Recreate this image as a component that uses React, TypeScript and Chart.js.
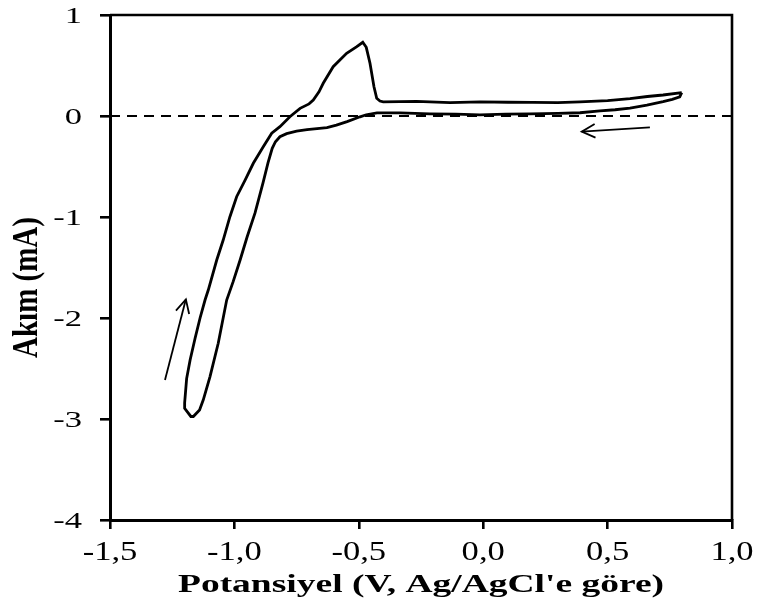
import React, { useEffect, useRef } from "react";
import { Chart, registerables } from "chart.js";

Chart.register(...registerables);

// Cyclic voltammogram, in path order (starting at the positive vertex, sweeping negative, then back)
const CV_POTENTIAL = [
  0.798, 0.79, 0.76, 0.723, 0.658, 0.59, 0.53, 0.469, 0.389, 0.3, 0.188, 0.09, -0.013, -0.11, -0.214, -0.334,
  -0.427, -0.47, -0.495, -0.547, -0.59, -0.628, -0.708, -0.75, -0.79, -0.817, -0.835, -0.848, -0.865, -0.885,
  -0.917, -0.949, -0.977, -1.005, -1.031, -1.065, -1.098, -1.125, -1.14, -1.165, -1.175, -1.2, -1.2, -1.192,
  -1.178, -1.158, -1.138, -1.118, -1.105, -1.071, -1.045, -1.018, -0.991, -0.957, -0.924, -0.884, -0.85, -0.817,
  -0.777, -0.736, -0.7, -0.683, -0.66, -0.643, -0.603, -0.549, -0.508, -0.484, -0.47, -0.455, -0.439, -0.428,
  -0.415, -0.402, -0.268, -0.133, -0.013, 0.1, 0.2, 0.3, 0.389, 0.5, 0.59, 0.66, 0.723, 0.798,
];
const CV_CURRENT = [
  0.231, 0.19, 0.165, 0.142, 0.108, 0.079, 0.062, 0.05, 0.032, 0.026, 0.022, 0.018, 0.012, 0.018, 0.022, 0.03,
  0.03, 0.012, -0.008, -0.055, -0.09, -0.115, -0.135, -0.15, -0.175, -0.205, -0.255, -0.32, -0.465, -0.663,
  -0.96, -1.198, -1.426, -1.64, -1.822, -2.25, -2.58, -2.81, -2.91, -2.975, -2.975, -2.895, -2.84, -2.6,
  -2.416, -2.2, -2.0, -1.822, -1.723, -1.426, -1.228, -0.997, -0.799, -0.634, -0.468, -0.304, -0.171, -0.106,
  -0.007, 0.076, 0.12, 0.158, 0.24, 0.324, 0.488, 0.621, 0.686, 0.73, 0.68, 0.522, 0.29, 0.175,
  0.148, 0.14, 0.145, 0.132, 0.14, 0.136, 0.135, 0.133, 0.14, 0.152, 0.172, 0.193, 0.208, 0.231,
];

// Dashed zero-current reference line
const ZERO_POTENTIAL = [-1.5, 1.0];
const ZERO_CURRENT = [0, 0];

// Scan-direction arrows: [tail, tip]
const ARROW_RIGHT_POTENTIAL = [0.67, 0.396];
const ARROW_RIGHT_CURRENT = [-0.112, -0.155];
const ARROW_LEFT_POTENTIAL = [-1.279, -1.195];
const ARROW_LEFT_CURRENT = [-2.614, -1.815];

const X_TICKS = [-1.5, -1.0, -0.5, 0.0, 0.5, 1.0];
const X_TICK_LABELS = ["-1,5", "-1,0", "-0,5", "0,0", "0,5", "1,0"];
const Y_TICKS = [1, 0, -1, -2, -3, -4];
const Y_TICK_LABELS = ["1", "0", "-1", "-2", "-3", "-4"];

const X_TITLE = "Potansiyel (V, Ag/AgCl'e göre)";
const Y_TITLE = "Akım (mA)";

const SERIF = '"Liberation Serif", "Times New Roman", serif';

const toPoints = (xs: number[], ys: number[]) => xs.map((x, i) => ({ x, y: ys[i] }));

const decorPlugin = {
  id: "decor",
  afterDraw(chart: any) {
    const { ctx, chartArea, scales } = chart;
    const xs = scales.x;
    const ys = scales.y;
    ctx.save();
    // top and right frame lines
    ctx.strokeStyle = "#000";
    ctx.lineWidth = 2.6;
    ctx.beginPath();
    ctx.moveTo(chartArea.left, chartArea.top);
    ctx.lineTo(chartArea.right, chartArea.top);
    ctx.lineTo(chartArea.right, chartArea.bottom);
    ctx.stroke();

    // arrowheads (open V), computed from arrow data through the scales
    const heads = [
      [ARROW_RIGHT_POTENTIAL, ARROW_RIGHT_CURRENT],
      [ARROW_LEFT_POTENTIAL, ARROW_LEFT_CURRENT],
    ];
    ctx.lineWidth = 1.8;
    heads.forEach(([px, py]) => {
      const x0 = xs.getPixelForValue(px[0]);
      const y0 = ys.getPixelForValue(py[0]);
      const x1 = xs.getPixelForValue(px[1]);
      const y1 = ys.getPixelForValue(py[1]);
      const ang = Math.atan2(y1 - y0, x1 - x0);
      const len = 15;
      const spread = (27 * Math.PI) / 180;
      ctx.beginPath();
      ctx.moveTo(x1 - len * Math.cos(ang - spread), y1 - len * Math.sin(ang - spread));
      ctx.lineTo(x1, y1);
      ctx.lineTo(x1 - len * Math.cos(ang + spread), y1 - len * Math.sin(ang + spread));
      ctx.stroke();
    });

    ctx.fillStyle = "#000";
    // y tick labels
    ctx.font = `23px ${SERIF}`;
    ctx.textAlign = "right";
    ctx.textBaseline = "alphabetic";
    Y_TICKS.forEach((v, i) => {
      const py = ys.getPixelForValue(v);
      ctx.save();
      ctx.translate(chartArea.left - 28, py + 8);
      ctx.scale(1.5, 1);
      ctx.fillText(Y_TICK_LABELS[i], 0, 0);
      ctx.restore();
    });
    // x tick labels
    ctx.font = `27px ${SERIF}`;
    ctx.textAlign = "center";
    X_TICKS.forEach((v, i) => {
      const px = xs.getPixelForValue(v);
      ctx.save();
      ctx.translate(px, chartArea.bottom + 40);
      ctx.scale(1.28, 1);
      ctx.fillText(X_TICK_LABELS[i], 0, 0);
      ctx.restore();
    });
    // x title
    ctx.font = `bold 25px ${SERIF}`;
    ctx.save();
    ctx.translate((chartArea.left + chartArea.right) / 2, chartArea.bottom + 72);
    ctx.scale(1.5, 1);
    ctx.fillText(X_TITLE, 0, 0);
    ctx.restore();
    // y title
    ctx.font = `bold 29px ${SERIF}`;
    ctx.save();
    ctx.translate(37, (chartArea.top + chartArea.bottom) / 2 + 20);
    ctx.rotate(-Math.PI / 2);
    ctx.scale(1, 1.25);
    ctx.fillText(Y_TITLE, 0, 0);
    ctx.restore();

    ctx.restore();
  },
};

export default function App() {
  const canvasRef = useRef<HTMLCanvasElement | null>(null);

  useEffect(() => {
    const canvas = canvasRef.current;
    if (!canvas) return;
    const chart = new Chart(canvas, {
      type: "scatter",
      data: {
        datasets: [
          {
            data: toPoints(CV_POTENTIAL, CV_CURRENT),
            showLine: true,
            borderColor: "#000",
            borderWidth: 2.8,
            pointRadius: 0,
            tension: 0,
            fill: false,
          },
          {
            data: toPoints(ZERO_POTENTIAL, ZERO_CURRENT),
            showLine: true,
            borderColor: "#000",
            borderWidth: 2.2,
            borderDash: [10, 7],
            pointRadius: 0,
          },
          {
            data: toPoints(ARROW_RIGHT_POTENTIAL, ARROW_RIGHT_CURRENT),
            showLine: true,
            borderColor: "#000",
            borderWidth: 1.8,
            pointRadius: 0,
          },
          {
            data: toPoints(ARROW_LEFT_POTENTIAL, ARROW_LEFT_CURRENT),
            showLine: true,
            borderColor: "#000",
            borderWidth: 1.8,
            pointRadius: 0,
          },
        ],
      } as any,
      options: {
        animation: false,
        responsive: false,
        maintainAspectRatio: false,
        layout: { padding: { top: 15, right: 29, left: 0, bottom: 0 } },
        plugins: { legend: { display: false }, tooltip: { enabled: false } },
        scales: {
          x: {
            type: "linear",
            min: -1.5,
            max: 1.0,
            afterBuildTicks: (s: any) => {
              s.ticks = X_TICKS.map((value) => ({ value }));
            },
            afterFit: (s: any) => {
              s.height = 84;
            },
            ticks: { display: false },
            grid: { drawOnChartArea: false, drawTicks: true, tickLength: 9, color: "#000", lineWidth: 2.6 },
            border: { display: true, color: "#000", width: 3 },
          },
          y: {
            type: "linear",
            min: -4,
            max: 1,
            afterBuildTicks: (s: any) => {
              s.ticks = Y_TICKS.map((value) => ({ value }));
            },
            afterFit: (s: any) => {
              s.width = 110;
            },
            ticks: { display: false },
            grid: { drawOnChartArea: false, drawTicks: true, tickLength: 10, color: "#000", lineWidth: 2.6 },
            border: { display: true, color: "#000", width: 3 },
          },
        },
      } as any,
      plugins: [decorPlugin],
    });
    return () => chart.destroy();
  }, []);

  return (
    <div style={{ position: "fixed", left: 0, top: 0, width: 761, height: 604, background: "#fff" }}>
      <canvas ref={canvasRef} width={761} height={604} style={{ display: "block", width: 761, height: 604 }} />
    </div>
  );
}
